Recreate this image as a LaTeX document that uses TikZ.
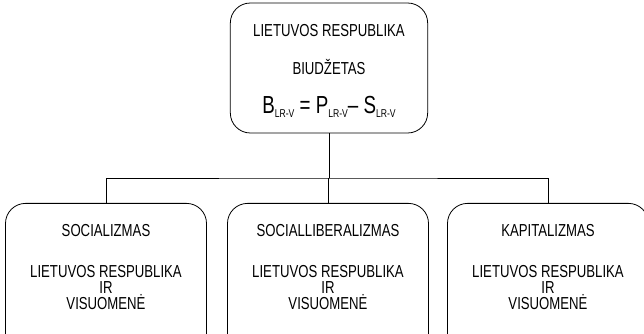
\documentclass[tikz,border=0pt]{standalone}
\usepackage{fontspec}
\setmainfont[FakeStretch=0.76]{Liberation Sans}
\usepackage{tikz}
\usetikzlibrary{positioning}
\tikzset{
	block/.style={
			draw, semithick, rounded corners=15pt,
			minimum width=150.75pt, minimum height=120pt, inner sep=0pt
		},
	caption/.style={
			font=\fontsize{13}{12}\selectfont, inner sep=0pt, align=center
		}
}
\newcommand{\lrv}{\raisebox{-3pt}{\fontsize{8.5}{8}\selectfont LR-V}}

\begin{document}
\begin{tikzpicture}[x=0.75pt, y=-0.75pt]
		\useasboundingbox (0, 0) rectangle (644, 334);
		\clip (0, 0) rectangle (644, 334);

		\node [block, minimum width=148pt, minimum height=97.5pt] (lr) at (329, 68) {};
		\node [caption, anchor=base] (lrname) at (329, 37) {LIETUVOS RESPUBLIKA};
		\node [caption, anchor=base] (budget) at (329, 75) {BIUDŽETAS};
		\node [caption, anchor=base, font=\fontsize{18.5}{18}\selectfont] (balance) at (329, 114)
			{B\lrv{} = P\lrv– S\lrv};

		\node [block, anchor=north] (soc) at (106, 203) {};
		\node [block, anchor=north] (socl) at (328, 203) {};
		\node [block, anchor=north] (kap) at (548, 203) {};

		\node [caption, anchor=base] (socname) at (106, 237) {SOCIALIZMAS};
		\node [caption, anchor=base] (soclname) at (328, 237) {SOCIALLIBERALIZMAS};
		\node [caption, anchor=base] (kapname) at (548, 237) {KAPITALIZMAS};
		\node [caption, anchor=north] (socsub) at (106, 265) {LIETUVOS RESPUBLIKA\\IR\\VISUOMENĖ};
		\node [caption, anchor=north] (soclsub) at (328, 265) {LIETUVOS RESPUBLIKA\\IR\\VISUOMENĖ};
		\node [caption, anchor=north] (kapsub) at (548, 265) {LIETUVOS RESPUBLIKA\\IR\\VISUOMENĖ};

		\coordinate (split) at (lr.south |- 0, 178);
		\draw [semithick]	(lr.south) -- (split);
		\draw [semithick]	(soc.north) |- (split) -| (kap.north);
		\draw [semithick]	(split) -| (socl.north);
	\end{tikzpicture}
\end{document}
